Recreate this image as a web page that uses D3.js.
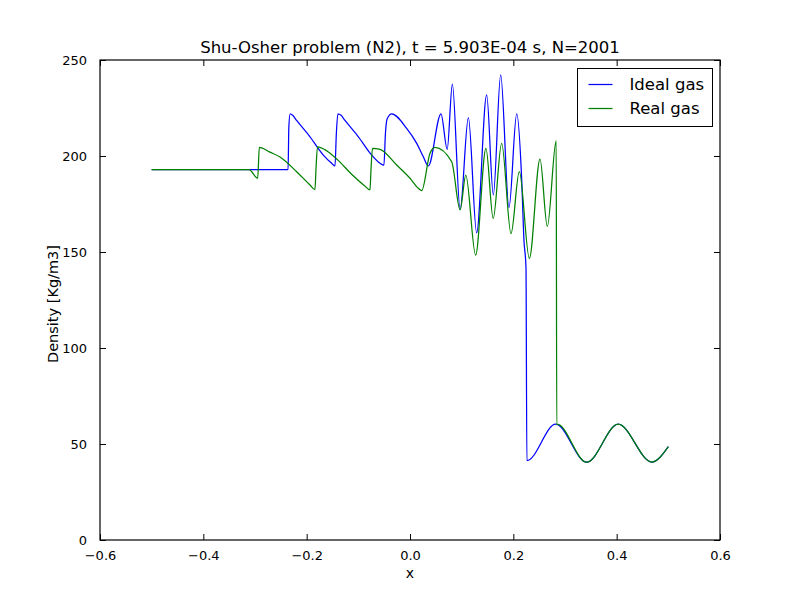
<!doctype html>
<meta charset="utf-8"/>
<title>Shu-Osher problem (N2)</title>
<script src="https://d3js.org/d3.v7.min.js"></script>
<style>
body {
  margin: 0;
  background: #fff;
}
svg text {
  font-family: "DejaVu Sans", sans-serif;
  fill: #000;
}
</style>

<div id="chart"></div>

<script>
// values
var idealX = [-0.500, -0.2360, -0.2345, -0.2320, -0.2270, -0.2194, -0.1935, -0.1677, -0.1516, -0.1452,
  -0.1425, -0.1395, -0.1334, -0.1258, -0.0999, -0.0741, -0.0580, -0.0505, -0.0475, -0.0440, -0.0355,
  -0.0065, 0.0130, 0.0258, 0.0355, 0.0600, 0.0720, 0.0820, 0.0970, 0.1130, 0.1290, 0.1484, 0.1613,
  0.1755, 0.1916, 0.2065, 0.2162, 0.2206, 0.2245, 0.2262, 0.2820, 0.3420, 0.4030, 0.4680, 0.5000];
var idealY = [192.9, 192.9, 215, 222, 221.2, 218.5, 210, 200.5, 196.2, 194.8,
  212, 222, 221.2, 218.5, 210, 200.5, 196.2, 195.2, 212, 219.5, 222,
  214.4, 206.6, 199.6, 194.8, 222, 203.5, 237.5, 172.2, 220, 160, 231.8, 179.7,
  242.2, 173.1, 221.9, 187.5, 156, 142, 41.3, 60.3, 40.5, 60.3, 40.6, 48.6];

var realX = [-0.500, -0.3116, -0.2948, -0.2916, -0.2710, -0.2516, -0.2194, -0.1935, -0.1839, -0.1820,
  -0.1790, -0.1600, -0.1400, -0.1130, -0.0880, -0.0774, -0.0755, -0.0725, -0.0580, -0.0258,
  0.0000, 0.0160, 0.0226, 0.0387, 0.0484, 0.0807, 0.0970, 0.1080, 0.1270, 0.1470, 0.1610,
  0.1774, 0.1955, 0.2116, 0.2310, 0.2516, 0.2658, 0.2830, 0.2840, 0.2848, 0.3420, 0.4030,
  0.4680, 0.5000];
var realY = [192.9, 192.9, 188.4, 204.5, 202, 199.5, 191.8, 184.9, 182.5, 193,
  204.8, 202.5, 198, 190.5, 184.5, 182.3, 193, 204, 203.5, 195.3,
  188.4, 183.2, 182, 201.4, 204.5, 197, 171.9, 190.1, 148.4, 204, 167.5,
  206.6, 159.6, 191.8, 146.7, 198.4, 163.3, 208, 60.0, 60.3, 40.5, 60.3,
  40.6, 48.6];

var xTicks = [-0.6, -0.4, -0.2, 0.0, 0.2, 0.4, 0.6];
var yTicks = [0, 50, 100, 150, 200, 250];

var seriesNames = ["Ideal gas", "Real gas"];
var seriesColors = ["#0000ff", "#008000"];

var W = 800, H = 600;
var margin = {top: 60, right: 80, bottom: 60, left: 100};
var w = W - margin.left - margin.right;
var h = H - margin.top - margin.bottom;

var svg = d3.select("#chart").append("svg")
  .attr("width", W)
  .attr("height", H);

var g = svg.append("g")
  .attr("transform", "translate(" + margin.left + "," + margin.top + ")");

var x = d3.scaleLinear().domain([-0.6, 0.6]).range([0, w]);
var y = d3.scaleLinear().domain([0, 250]).range([h, 0]);

g.append("clipPath").attr("id", "clip")
  .append("rect").attr("width", w).attr("height", h);

var line = d3.line()
  .x(function(d) { return x(d[0]); })
  .y(function(d) { return y(d[1]); })
  .curve(d3.curveMonotoneX);

var series = [d3.zip(idealX, idealY), d3.zip(realX, realY)];

g.append("g").attr("clip-path", "url(#clip)")
  .selectAll("path")
  .data(series)
  .enter().append("path")
  .attr("d", line)
  .attr("fill", "none")
  .attr("stroke", function(d, i) { return seriesColors[i]; })
  .attr("stroke-width", 1.25);

// ticks point inward on all four sides, like matplotlib classic
var fmtX = function(d) { return d3.format(".1f")(d).replace("-", "\u2212"); };
var tickLen = 6;

var xBottom = d3.axisBottom(x).tickValues(xTicks).tickSizeInner(-tickLen).tickSizeOuter(0)
  .tickPadding(tickLen + 5).tickFormat(fmtX);
var xTop = d3.axisTop(x).tickValues(xTicks).tickSizeInner(-tickLen).tickSizeOuter(0).tickFormat("");
var yLeft = d3.axisLeft(y).tickValues(yTicks).tickSizeInner(-tickLen).tickSizeOuter(0)
  .tickPadding(tickLen + 7).tickFormat(d3.format("d"));
var yRight = d3.axisRight(y).tickValues(yTicks).tickSizeInner(-tickLen).tickSizeOuter(0).tickFormat("");

g.append("g").attr("transform", "translate(0," + h + ")").call(xBottom);
g.append("g").call(xTop);
g.append("g").call(yLeft);
g.append("g").attr("transform", "translate(" + w + ",0)").call(yRight);

g.selectAll(".domain").remove();
g.selectAll(".tick line").attr("stroke", "#000").attr("stroke-width", 1);
g.selectAll(".tick text").style("font-size", "13px").style("font-family", "DejaVu Sans");

g.append("rect")
  .attr("width", w)
  .attr("height", h)
  .attr("fill", "none")
  .attr("stroke", "#000")
  .attr("stroke-width", 1.2);

svg.append("text")
  .attr("x", margin.left + w / 2)
  .attr("y", 53)
  .attr("text-anchor", "middle")
  .style("font-size", "16.5px")
  .text("Shu-Osher problem (N2), t = 5.903E-04 s, N=2001");

svg.append("text")
  .attr("x", margin.left + w / 2)
  .attr("y", 578)
  .attr("text-anchor", "middle")
  .style("font-size", "14px")
  .text("x");

svg.append("text")
  .attr("transform", "translate(58," + (margin.top + h / 2 + 4) + ") rotate(-90)")
  .attr("text-anchor", "middle")
  .style("font-size", "14.5px")
  .text("Density [Kg/m3]");

// legend
var leg = svg.append("g").attr("transform", "translate(577.5,68.5)");
leg.append("rect")
  .attr("width", 135)
  .attr("height", 58)
  .attr("fill", "#fff")
  .attr("stroke", "#000")
  .attr("stroke-width", 1);

var rows = leg.selectAll("g.row")
  .data(seriesNames)
  .enter().append("g")
  .attr("class", "row")
  .attr("transform", function(d, i) { return "translate(0," + (16 + i * 24) + ")"; });

rows.append("line")
  .attr("x1", 11).attr("x2", 35)
  .attr("stroke", function(d, i) { return seriesColors[i]; })
  .attr("stroke-width", 1.25);

rows.append("text")
  .attr("x", 52)
  .attr("dy", "0.35em")
  .style("font-size", "16.5px")
  .text(function(d) { return d; });
</script>
